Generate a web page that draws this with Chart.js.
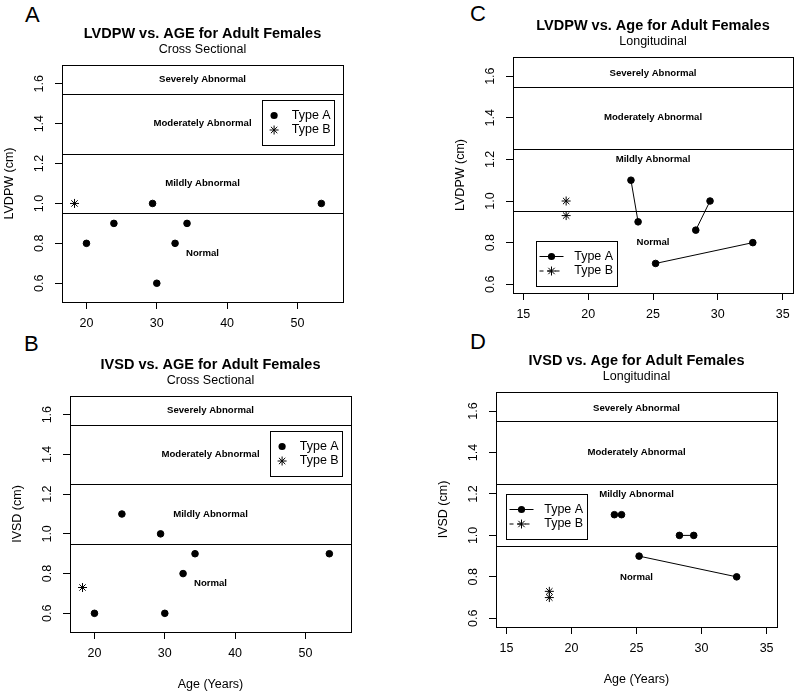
<!DOCTYPE html>
<html>
<head>
<meta charset="utf-8">
<script src="https://cdn.jsdelivr.net/npm/chart.js"></script>
<style>
  body { margin: 0; background: #fff; }
  #page { position: relative; width: 800px; height: 694px; overflow: hidden; background: #fff;
          font-family: "Liberation Sans", Arial, sans-serif; }
  #page canvas { position: absolute; }
  .tag { position: absolute; font-size: 22px; line-height: 22px; color: #000; }
</style>
</head>
<body>
<div id="page">
  <div class="tag" style="left:25px;top:4px">A</div>
  <div class="tag" style="left:24px;top:333px">B</div>
  <div class="tag" style="left:470px;top:3px">C</div>
  <div class="tag" style="left:470px;top:331px">D</div>
</div>
<script>
// cross sectional data (panels A and B)
const crossAgeA = [20.0, 23.9, 29.4, 30.0, 32.6, 34.3, 53.4];
const crossLvdpwA = [0.8, 0.9, 1.0, 0.6, 0.8, 0.9, 1.0];
const crossIvsdA = [0.6, 1.1, 1.0, 0.6, 0.8, 0.9, 0.9];
const crossAgeB = [18.3];
const crossLvdpwB = [1.0];
const crossIvsdB = [0.73];

// longitudinal data (panels C and D), two visits per subject
const longAgeA = [[23.3, 23.85], [28.3, 29.4], [25.2, 32.7]];
const longLvdpwA = [[1.1, 0.9], [0.86, 1.0], [0.7, 0.8]];
const longIvsdA = [[1.1, 1.1], [1.0, 1.0], [0.9, 0.8]];
const longAgeB = [18.3, 18.3];
const longLvdpwB = [1.0, 0.93];
const longIvsdB = [0.73, 0.70];

const groupNames = ["Type A", "Type B"];

// reference bands
const zoneCuts = [1.55, 1.25, 0.95];
const zoneNames = ["Severely Abnormal", "Moderately Abnormal", "Mildly Abnormal", "Normal"];
const crossZoneY = [1.62, 1.4, 1.1, 0.75];
const longZoneY = [1.615, 1.4, 1.2, 0.8];

// axes
const crossXTicks = [20, 30, 40, 50];
const longXTicks = [15, 20, 25, 30, 35];
const yTicks = [0.6, 0.8, 1.0, 1.2, 1.4, 1.6];
const crossXRange = [16.52, 56.48];
const longXRange = [14.2, 35.8];
const crossYRange = [0.506, 1.694];
const longYRange = [0.558, 1.692];

const FONT = '"Liberation Sans", Arial, sans-serif';
Chart.defaults.font.family = FONT;
Chart.defaults.color = "#000";

function pts(xs, ys) {
  return xs.map((x, i) => ({ x: x, y: ys[i] }));
}

const dot = {
  pointStyle: "circle", pointRadius: 3.3, pointBackgroundColor: "#000",
  pointBorderColor: "#000", pointBorderWidth: 1, backgroundColor: "#000", borderColor: "#000"
};
const star = {
  pointStyle: "star", pointRadius: 4.5, pointBorderColor: "#000",
  pointBorderWidth: 1, borderColor: "#000", backgroundColor: "#000"
};

function crossSets(ys, ysB) {
  return [
    Object.assign({ label: groupNames[0], data: pts(crossAgeA, ys) }, dot),
    Object.assign({ label: groupNames[1], data: pts(crossAgeB, ysB) }, star)
  ];
}

function longSets(ys, ysB) {
  const sets = longAgeA.map((ages, i) =>
    Object.assign({ label: groupNames[0], data: pts(ages, ys[i]), showLine: true, borderWidth: 1 }, dot)
  );
  sets.push(Object.assign({ label: groupNames[1], data: pts(longAgeB, ysB), showLine: false,
    borderDash: [4, 4], borderWidth: 1 }, star));
  return sets;
}

const zonePlugin = {
  id: "zones",
  beforeDatasetsDraw(chart, args, o) {
    const { ctx, chartArea: a, scales: { y } } = chart;
    ctx.save();
    ctx.strokeStyle = "#000";
    ctx.lineWidth = 1;
    zoneCuts.forEach((v) => {
      const py = Math.round(y.getPixelForValue(v)) + 0.5;
      ctx.beginPath();
      ctx.moveTo(a.left, py);
      ctx.lineTo(a.right, py);
      ctx.stroke();
    });
    ctx.strokeRect(Math.round(a.left) + 0.5, Math.round(a.top) + 0.5, Math.round(a.width), Math.round(a.height));
    ctx.fillStyle = "#000";
    ctx.font = "bold 9.6px " + FONT;
    ctx.textAlign = "center";
    ctx.textBaseline = "middle";
    const cx = (a.left + a.right) / 2;
    zoneNames.forEach((n, i) => ctx.fillText(n, cx, y.getPixelForValue(o.labelY[i])));
    ctx.restore();
  },
  afterDatasetsDraw(chart, args, o) {
    const { ctx, scales: { x, y } } = chart;
    const lx = Math.round(x.getPixelForValue(o.legendAt[0])) + 0.5;
    const ly = Math.round(y.getPixelForValue(o.legendAt[1])) + 0.5;
    const w = o.lined ? 81 : 72;
    const h = 45;
    ctx.save();
    ctx.fillStyle = "#fff";
    ctx.fillRect(lx, ly, w, h);
    ctx.strokeStyle = "#000";
    ctx.lineWidth = 1;
    ctx.strokeRect(lx, ly, w, h);
    const rows = [ly + 15, ly + 29.5];
    const mx = o.lined ? lx + 15 : lx + 11.6;
    const tx = o.lined ? lx + 37.7 : lx + 29.3;
    if (o.lined) {
      ctx.beginPath();
      ctx.moveTo(lx + 3, rows[0]);
      ctx.lineTo(lx + 27, rows[0]);
      ctx.stroke();
      ctx.setLineDash([4, 4]);
      ctx.beginPath();
      ctx.moveTo(lx + 3, rows[1]);
      ctx.lineTo(lx + 27, rows[1]);
      ctx.stroke();
      ctx.setLineDash([]);
    }
    ctx.fillStyle = "#000";
    ctx.beginPath();
    ctx.arc(mx, rows[0], 3.6, 0, Math.PI * 2);
    ctx.fill();
    const r = 4.5, d = r * Math.SQRT1_2;
    ctx.beginPath();
    ctx.moveTo(mx - r, rows[1]); ctx.lineTo(mx + r, rows[1]);
    ctx.moveTo(mx, rows[1] - r); ctx.lineTo(mx, rows[1] + r);
    ctx.moveTo(mx - d, rows[1] - d); ctx.lineTo(mx + d, rows[1] + d);
    ctx.moveTo(mx - d, rows[1] + d); ctx.lineTo(mx + d, rows[1] - d);
    ctx.stroke();
    ctx.font = "12.5px " + FONT;
    ctx.textAlign = "left";
    ctx.textBaseline = "middle";
    ctx.fillText(groupNames[0], tx, rows[0]);
    ctx.fillText(groupNames[1], tx, rows[1]);
    ctx.restore();
  }
};

const panels = [
  { box: [62, 65, 343, 302], title: "LVDPW vs. AGE for Adult Females", sub: "Cross Sectional",
    yTitle: "LVDPW (cm)", xTitle: "", sets: crossSets(crossLvdpwA, crossLvdpwB),
    xRange: crossXRange, yRange: crossYRange, xTicks: crossXTicks, labelY: crossZoneY,
    legendAt: [45, 1.52], lined: false },
  { box: [70, 396, 351, 632], title: "IVSD vs. AGE for Adult Females", sub: "Cross Sectional",
    yTitle: "IVSD (cm)", xTitle: "Age (Years)", sets: crossSets(crossIvsdA, crossIvsdB),
    xRange: crossXRange, yRange: crossYRange, xTicks: crossXTicks, labelY: crossZoneY,
    legendAt: [45, 1.52], lined: false },
  { box: [513, 57, 793, 293], title: "LVDPW vs. Age for Adult Females", sub: "Longitudinal",
    yTitle: "LVDPW (cm)", xTitle: "", sets: longSets(longLvdpwA, longLvdpwB),
    xRange: longXRange, yRange: longYRange, xTicks: longXTicks, labelY: longZoneY,
    legendAt: [15.95, 0.81], lined: true },
  { box: [496, 392, 777, 627], title: "IVSD vs. Age for Adult Females", sub: "Longitudinal",
    yTitle: "IVSD (cm)", xTitle: "Age (Years)", sets: longSets(longIvsdA, longIvsdB),
    xRange: longXRange, yRange: longYRange, xTicks: longXTicks, labelY: longZoneY,
    legendAt: [15, 1.2], lined: true }
];

const page = document.getElementById("page");

function makeChart(p) {
  const [l, t, r, b] = p.box;
  const w = 60 + (r - l) + 6;
  const h = 49 + (b - t) + 60;
  const cv = document.createElement("canvas");
  cv.width = w;
  cv.height = h;
  cv.style.left = (l - 60) + "px";
  cv.style.top = (t - 49) + "px";
  cv.style.width = w + "px";
  cv.style.height = h + "px";
  page.appendChild(cv);

  const axisGrid = { drawOnChartArea: false, drawTicks: true, tickLength: 7, color: "#000", tickColor: "#000", lineWidth: 1 };

  return new Chart(cv, {
    type: "scatter",
    data: { datasets: p.sets },
    options: {
      responsive: false,
      animation: false,
      devicePixelRatio: 1,
      layout: { padding: { left: 0, right: 6, top: 0, bottom: 0 } },
      plugins: {
        legend: { display: false },
        tooltip: { enabled: false },
        title: { display: true, text: p.title, fullSize: false, color: "#000",
          font: { size: 14.5, weight: "bold", lineHeight: "16px" }, padding: { top: 10, bottom: 0 } },
        subtitle: { display: true, text: p.sub, fullSize: false, color: "#000",
          font: { size: 12.5, lineHeight: "15px" }, padding: { top: 0, bottom: 8 } },
        zones: { labelY: p.labelY, legendAt: p.legendAt, lined: p.lined }
      },
      scales: {
        x: {
          type: "linear", position: "bottom", min: p.xRange[0], max: p.xRange[1],
          afterBuildTicks: (s) => { s.ticks = p.xTicks.map((v) => ({ value: v })); },
          afterFit: (s) => { s.height = 60; s.paddingLeft = 0; s.paddingRight = 0; },
          grid: axisGrid,
          border: { display: false },
          ticks: { color: "#000", font: { size: 12.5 }, padding: 7, maxRotation: 0, autoSkip: false,
            callback: (v) => String(v) },
          title: { display: !!p.xTitle, text: p.xTitle, color: "#000", font: { size: 12.5 }, padding: 0 }
        },
        y: {
          type: "linear", position: "left", min: p.yRange[0], max: p.yRange[1],
          afterBuildTicks: (s) => { s.ticks = yTicks.map((v) => ({ value: v })); },
          afterFit: (s) => { s.width = 60; s.paddingTop = 0; s.paddingBottom = 0; },
          grid: axisGrid,
          border: { display: false },
          ticks: { color: "#000", font: { size: 12.5 }, padding: 7, minRotation: 90, maxRotation: 90,
            crossAlign: "center", autoSkip: false, callback: (v) => v.toFixed(1) },
          title: { display: true, text: p.yTitle, color: "#000", font: { size: 12.5 }, padding: 0 }
        }
      }
    },
    plugins: [zonePlugin]
  });
}

panels.forEach(makeChart);
</script>
</body>
</html>
